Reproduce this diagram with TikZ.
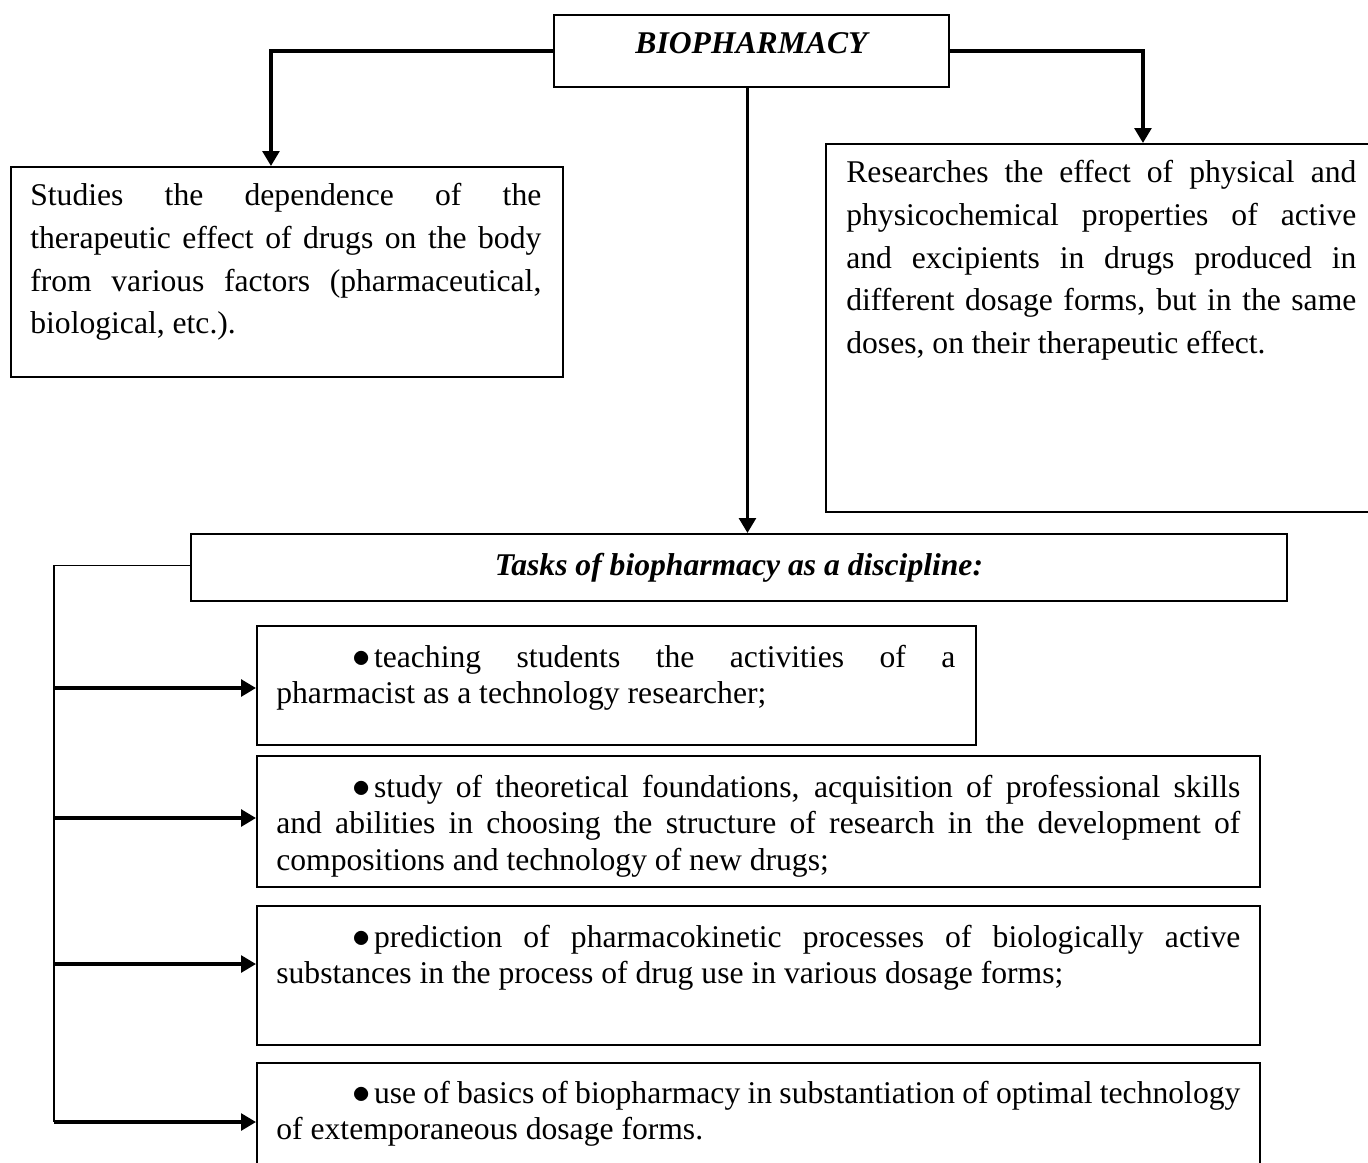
\documentclass[tikz,border=0pt]{standalone}
\usepackage{fontspec}
\setmainfont{Liberation Serif}
\usepackage{tikz}
\usetikzlibrary{positioning,arrows.meta}

\newcommand{\pxu}{0.02cm}
\newcommand{\taskbullet}{\hspace*{1.52cm}{\fontsize{21}{21}\selectfont$\bullet$}\kern2pt}
\hyphenpenalty=10000
\exhyphenpenalty=10000

\begin{document}
\begin{tikzpicture}[
    x=0.02cm, y=-0.02cm,
    box/.style={draw=black, line width=1.1pt, inner sep=0pt, anchor=north west},
    headtext/.style={anchor=base, inner sep=0pt, font=\fontsize{18}{22}\selectfont\bfseries\itshape},
    bodytext/.style={anchor=base west, inner sep=0pt, align=justify, font=\fontsize{18}{24.2}\selectfont},
    tasktext/.style={bodytext, font=\fontsize{18}{20.9}\selectfont},
    arrow/.style={-{Triangle[length=8.5pt, width=9.5pt]}, line width=2pt},
    rail/.style={line width=1.1pt},
]

% === FRAME: page size of the reference, boxes cut at the edges ===
\useasboundingbox (0,0) rectangle (1368,1162);
\clip (0,0) rectangle (1368,1162);

% Row 0: title
\node[box, minimum width=395*\pxu, minimum height=72*\pxu] (bio) at (553,14) {};
\node[headtext] (biotxt) at ([shift={(0,40)}]bio.north) {BIOPHARMACY};

% Row 1: two definitions
\node[box, minimum width=552*\pxu, minimum height=210*\pxu] (leftbox) at (10,166) {};
\node[bodytext, text width=511*\pxu] (lefttxt) at ([shift={(20,40)}]leftbox.north west)
    {Studies the dependence of the\linebreak therapeutic effect of drugs on the body\linebreak
     from various factors (pharmaceutical,\linebreak biological, etc.).};

\node[box, minimum width=552*\pxu, minimum height=368*\pxu] (rightbox) at (825,143) {};
\node[bodytext, text width=510*\pxu] (righttxt) at ([shift={(21,40)}]rightbox.north west)
    {Researches the effect of physical and\linebreak physicochemical properties of active\linebreak
     and excipients in drugs produced in\linebreak different dosage forms, but in the same\linebreak
     doses, on their therapeutic effect.};

% Row 2: tasks header
\node[box, minimum width=1096*\pxu, minimum height=67*\pxu] (tasks) at (190,533) {};
\node[headtext] (taskstxt) at ([shift={(0,42)}]tasks.north) {Tasks of biopharmacy as a discipline:};

% Row 3: task list
\node[box, minimum width=719*\pxu, minimum height=119*\pxu] (taskone) at (256,625) {};
\node[tasktext, text width=679*\pxu] (taskonetxt) at ([shift={(20,42)}]taskone.north west)
    {\taskbullet teaching students the activities of a\linebreak
     pharmacist as a technology researcher;};

\node[box, minimum width=1003*\pxu, minimum height=131*\pxu] (tasktwo) at (256,755) {};
\node[tasktext, text width=964*\pxu] (tasktwotxt) at ([shift={(20,42)}]tasktwo.north west)
    {\taskbullet study of theoretical foundations, acquisition of professional skills\linebreak
     and abilities in choosing the structure of research in the development of\linebreak
     compositions and technology of new drugs;};

\node[box, minimum width=1003*\pxu, minimum height=139*\pxu] (taskthree) at (256,905) {};
\node[tasktext, text width=964*\pxu] (taskthreetxt) at ([shift={(20,42)}]taskthree.north west)
    {\taskbullet prediction of pharmacokinetic processes of biologically active\linebreak
     substances in the process of drug use in various dosage forms;};

\node[box, minimum width=1003*\pxu, minimum height=130*\pxu] (taskfour) at (256,1062) {};
\node[tasktext, text width=964*\pxu] (taskfourtxt) at ([shift={(20,41)}]taskfour.north west)
    {\taskbullet use of basics of biopharmacy in substantiation of optimal technology\linebreak
     of extemporaneous dosage forms.};

% =======================================================================
% ARROWS
% =======================================================================

% --- (A) title -> definitions and tasks ---
\draw[arrow] (bio.west) -| ([shift={(-16,0)}]leftbox.north);
\draw[arrow] (bio.east) -| ([shift={(41,0)}]rightbox.north);
\draw[arrow] ([shift={(-4,0)}]bio.south) -- ([shift={(-4,0)}]bio.south |- tasks.north);

% --- (B) left rail from tasks header ---
\coordinate (railend) at (54,1122);
\draw[rail] ([shift={(0,-2)}]tasks.west) -| (railend);

% --- (C) rail -> each task ---
\coordinate (railone)   at (54,688);
\coordinate (railtwo)   at (54,818);
\coordinate (railthree) at (54,964);
\draw[arrow] (railone) -- (railone -| taskone.west);
\draw[arrow] (railtwo) -- (railtwo -| tasktwo.west);
\draw[arrow] (railthree) -- (railthree -| taskthree.west);
\draw[arrow] (railend) -- (railend -| taskfour.west);

\end{tikzpicture}
\end{document}
